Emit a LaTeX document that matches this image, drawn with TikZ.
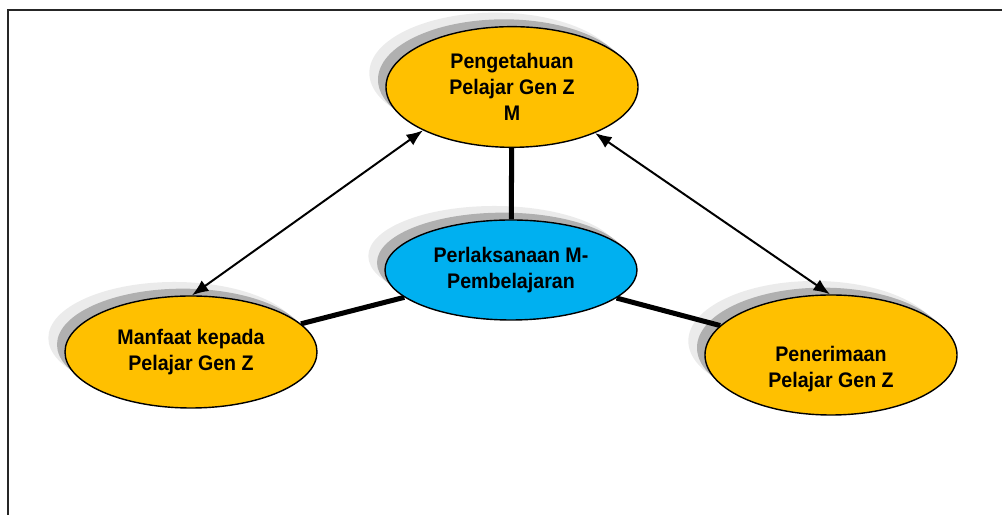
\documentclass[tikz,border=0pt]{standalone}
\usepackage{fontspec}
\setmainfont[FakeStretch=0.93]{Liberation Sans}
\usetikzlibrary{shapes.geometric,shadows,arrows.meta,backgrounds}
\definecolor{konsepkuning}{HTML}{FFC000}
\definecolor{konsepbiru}{HTML}{00B0F0}
\tikzset{
  konsep/.style={ellipse, draw=black, line width=1.2pt, inner sep=0pt,
    minimum width=7.56cm, align=center,
    font=\fontsize{18}{22.5}\selectfont\bfseries,
    general shadow={fill=black, opacity=0.08, shadow xshift=-0.5cm, shadow yshift=0.42cm},
    general shadow={fill=black, opacity=0.25, shadow xshift=-0.24cm, shadow yshift=0.22cm}},
  tebal/.style={line width=4.3pt},
  anak/.style={line width=1.7pt, {Latex[length=14pt,width=11pt]}-{Latex[length=14pt,width=11pt]}}
}
\begin{document}
\begin{tikzpicture}[x=0.03cm, y=0.03cm]
\useasboundingbox (0,0) rectangle (1002,515);
\clip (0,0) rectangle (1002,515);
\draw[line width=1.7pt, color=black!85] (8,-20) -- (8,505) -- (1020,505) ; % bingkai

\node[konsep, fill=konsepkuning, minimum height=3.62cm] (teng) at (512,428)
  {Pengetahuan\\Pelajar Gen Z\\M} ;
\node[konsep, fill=konsepbiru, minimum height=3.0cm] (pusat) at (511,245)
  {Perlaksanaan M-\\Pembelajaran} ;
\node[konsep, fill=konsepkuning, minimum height=3.36cm] (kiri) at (191,163)
  {Manfaat kepada\\Pelajar Gen Z} ;
\node[konsep, fill=konsepkuning, minimum height=3.6cm] (kanan) at (831,160)
  {\raisebox{-0.58cm}[0pt][0pt]{\begin{tabular}{@{}c@{}}Penerimaan\\[-1pt]Pelajar Gen Z\end{tabular}}} ;

% garis tebal di belakang, bayang-bayang di atasnya
\begin{pgfonlayer}{background}
\draw[tebal] (teng) -- (pusat) ;
\draw[tebal] (pusat) -- (kiri) ;
\draw[tebal] (pusat) -- (kanan) ;
\end{pgfonlayer}

\draw[anak] (teng.206) -- (kiri.89) ;
\draw[anak] (teng.331) -- (kanan.91) ;
\end{tikzpicture}
\end{document}
